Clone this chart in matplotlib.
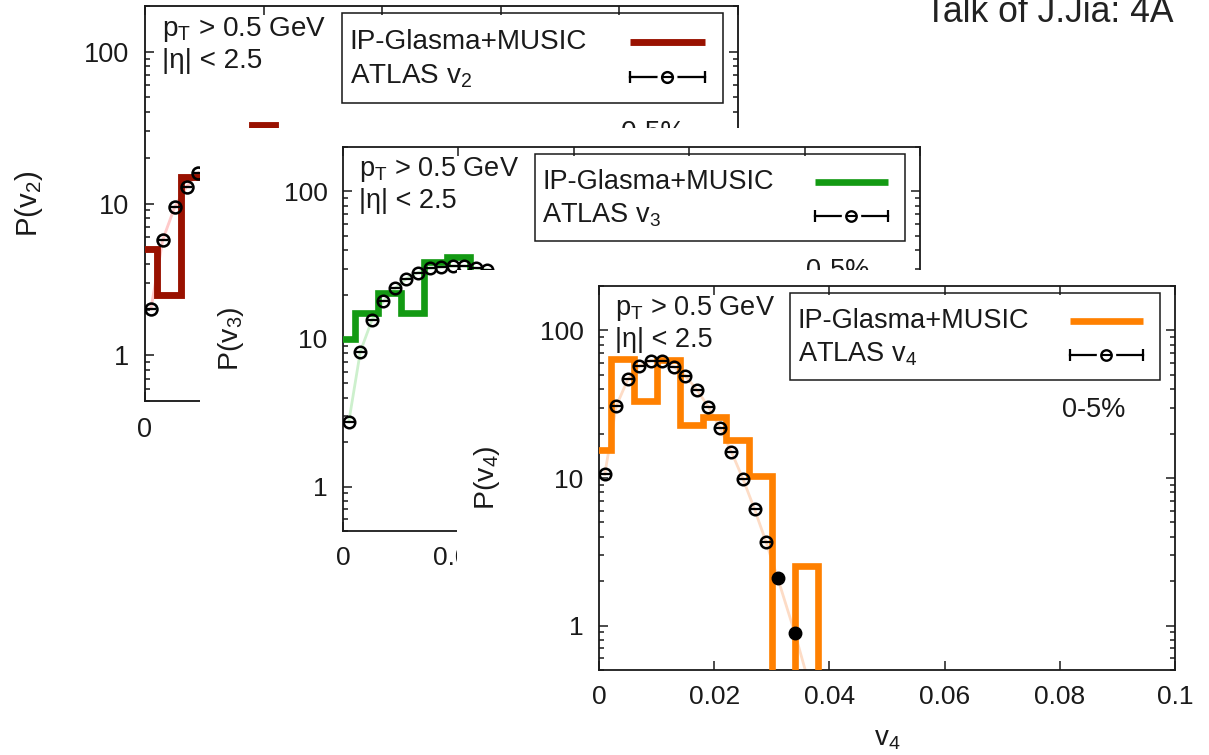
import numpy as np
import matplotlib.pyplot as plt
from matplotlib.patches import Rectangle
from matplotlib.ticker import LogLocator, NullFormatter

plt.rcParams['font.family'] = ['Liberation Sans', 'DejaVu Sans']
plt.rcParams['mathtext.fontset'] = 'custom'
plt.rcParams['mathtext.rm'] = 'Liberation Sans'
plt.rcParams['mathtext.it'] = 'Liberation Sans'
plt.rcParams['mathtext.bf'] = 'Liberation Sans:bold'

# IP-Glasma+MUSIC event-by-event distributions, bins of width 0.004 (first bin centred on 0)
bin_width = 0.004
model_v2 = [5.0, 2.5, 15.0, 22.0, 28.0, 33.0, 30.0]
model_v3 = [10.0, 15.1, 20.5, 15.1, 33.3, 36.0, 28.0]
model_v4 = [15.5, 64.0, 33.0, 63.0, 23.0, 26.0, 18.0, 10.3, 0.0, 2.55, 0.0]

# ATLAS unfolded P(v_n), 0-5% centrality
atlas_v2_x = [0.001, 0.003, 0.005, 0.007, 0.009]
atlas_v2_y = [2.02, 5.78, 9.45, 12.9, 15.9]
atlas_v3_x = [0.001, 0.003, 0.005, 0.007, 0.009, 0.011, 0.013, 0.015, 0.017, 0.019, 0.021, 0.023, 0.025]
atlas_v3_y = [2.74, 8.2, 13.4, 18.0, 22.0, 25.7, 28.2, 30.2, 30.8, 31.2, 31.2, 30.2, 29.4]
atlas_v4_x = [0.001, 0.003, 0.005, 0.007, 0.009, 0.011, 0.013, 0.015, 0.017, 0.019,
              0.021, 0.023, 0.025, 0.027, 0.029, 0.031, 0.034]
atlas_v4_y = [10.6, 30.7, 46.6, 57.5, 62.5, 62.0, 56.6, 49.2, 39.5, 30.3,
              21.9, 15.0, 9.85, 6.15, 3.69, 2.11, 0.89]
# points with large uncertainties are drawn solid
atlas_v4_solid = [False] * 15 + [True] * 2
# the guiding curve of v4 runs on below the frame
atlas_v4_tail_x = [0.0365]
atlas_v4_tail_y = [0.40]

xticks = [0, 0.02, 0.04, 0.06, 0.08, 0.1]
xtick_labels = ['0', '0.02', '0.04', '0.06', '0.08', '0.1']
yticks = [1, 10, 100]
ytick_labels = ['1', '10', '100']

W, H = 1209, 755
fig = plt.figure(figsize=(W / 100, H / 100), dpi=100)
INK = '#1a1a1a'


def px_rect(x0, y0, x1, y1):
    # pixel box (origin top-left) -> figure fraction rect
    return [x0 / W, 1 - y1 / H, (x1 - x0) / W, (y1 - y0) / H]


def cover(x0, y0, z):
    # white sheet laid over the lower-right part of the previous panel
    fig.add_artist(Rectangle((x0 / W, 0), 1 - x0 / W, 1 - y0 / H, transform=fig.transFigure,
                             facecolor='white', edgecolor='none', zorder=z))


def panel(rect, s, n, model, colour, fit_colour, ax_x, ax_y, solid, tail_x, tail_y, z):
    ax = fig.add_axes(rect, zorder=z)
    ax.set_yscale('log')

    edges = bin_width * (np.arange(len(model) + 1) - 0.5)
    ax.stairs(model, edges, baseline=None, color=colour, lw=4.8 * s,
              joinstyle='miter', zorder=3)

    ax.plot(list(ax_x) + list(tail_x), list(ax_y) + list(tail_y),
            color=fit_colour, lw=2.0 * s, zorder=1)

    ax_x = np.asarray(ax_x)
    ax_y = np.asarray(ax_y)
    solid = np.asarray(solid, dtype=bool)
    ax.plot(ax_x[~solid], ax_y[~solid], ls='none', marker='o', ms=8.3 * s,
            mfc='none', mec='black', mew=1.8 * s, zorder=4)
    ax.plot(ax_x[~solid], ax_y[~solid], ls='none', marker='_', ms=7.5 * s,
            mec='black', mew=1.6 * s, zorder=4)
    ax.plot(ax_x[solid], ax_y[solid], ls='none', marker='o', ms=9.0 * s,
            mfc='black', mec='black', zorder=4)

    ax.set_xlim(0, 0.1)
    ax.set_ylim(0.5, 200)
    ax.set_xticks(xticks, xtick_labels)
    ax.set_yticks(yticks, ytick_labels)
    ax.yaxis.set_minor_locator(LogLocator(subs=np.arange(2, 10)))
    ax.yaxis.set_minor_formatter(NullFormatter())
    ax.tick_params(which='both', direction='in', top=True, right=True,
                   width=1.1 * s, color=INK, labelcolor=INK, labelsize=19 * s)
    ax.tick_params(which='major', length=6.5 * s)
    ax.tick_params(which='minor', length=3.5 * s)
    ax.tick_params(axis='x', pad=11 * s)
    ax.tick_params(axis='y', pad=11 * s)
    for sp in ax.spines.values():
        sp.set_linewidth(1.3 * s)
        sp.set_color(INK)

    ax.set_ylabel(f'P(v$_{n}$)', fontsize=20.5 * s, color=INK)
    ax.yaxis.set_label_coords(-0.168, 0.5)
    ax.set_xlabel(f'v$_{n}$', fontsize=20 * s, color=INK)
    ax.xaxis.set_label_coords(0.5, -0.145)

    fs = 19.5 * s
    ax.text(0.028, 0.924, 'p$_T$ > 0.5 GeV', transform=ax.transAxes, fontsize=fs,
            va='baseline', color=INK)
    ax.text(0.028, 0.842, '|η| < 2.5', transform=ax.transAxes, fontsize=fs,
            va='baseline', color=INK)
    ax.text(0.803, 0.66, '0-5%', transform=ax.transAxes, fontsize=fs,
            va='baseline', color=INK)

    # key box: labels on the left, samples on the right
    ax.add_patch(Rectangle((0.332, 0.755), 0.642, 0.228, transform=ax.transAxes,
                           fill=False, lw=1.1 * s, edgecolor=INK, zorder=5))
    ax.text(0.345, 0.890, 'IP-Glasma+MUSIC', transform=ax.transAxes, fontsize=fs,
            va='baseline', color=INK)
    ax.text(0.345, 0.803, f'ATLAS v$_{n}$', transform=ax.transAxes, fontsize=fs,
            va='baseline', color=INK)
    ax.plot([0.818, 0.944], [0.910, 0.910], transform=ax.transAxes, color=colour,
            lw=4.8 * s, solid_capstyle='butt', zorder=5)
    ax.plot([0.818, 0.944], [0.820, 0.820], transform=ax.transAxes, color='black',
            lw=1.6 * s, marker='|', ms=8 * s, mew=1.6 * s, zorder=5)
    ax.plot([0.881], [0.820], transform=ax.transAxes, ls='none', marker='o',
            ms=13 * s, mfc='white', mec='white', zorder=6)
    ax.plot([0.881], [0.820], transform=ax.transAxes, ls='none', marker='o',
            ms=7.5 * s, mfc='none', mec='black', mew=1.7 * s, zorder=7)
    ax.plot([0.881], [0.820], transform=ax.transAxes, ls='none', marker='_',
            ms=7.0 * s, mec='black', mew=1.5 * s, zorder=7)
    return ax


panel(px_rect(145, 6, 738, 401), 1.03, 2, model_v2, '#991100', '#ffcaca',
      atlas_v2_x, atlas_v2_y, [False] * len(atlas_v2_x), [], [], 1)
cover(200, 128, 2)
panel(px_rect(343, 147, 920, 531), 1.0, 3, model_v3, '#139a13', '#cdf0cd',
      atlas_v3_x, atlas_v3_y, [False] * len(atlas_v3_x), [], [], 3)
cover(457, 270, 4)
panel(px_rect(599, 286, 1175, 670), 1.0, 4, model_v4, '#ff8000', '#fddcc6',
      atlas_v4_x, atlas_v4_y, atlas_v4_solid, atlas_v4_tail_x, atlas_v4_tail_y, 5)

fig.text(925 / W, 1 - 22 / H, 'Talk of J.Jia: 4A', fontsize=25.6, color='#222222',
         va='baseline', ha='left', zorder=6)

fig.savefig('out.png', dpi=100)
